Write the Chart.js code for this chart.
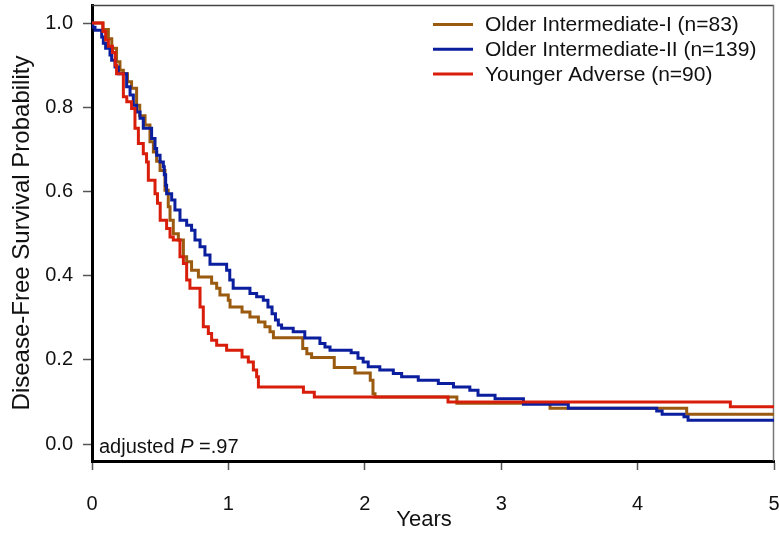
<!DOCTYPE html>
<html>
<head>
<meta charset="utf-8">
<script src="https://cdn.jsdelivr.net/npm/chart.js@4.4.1/dist/chart.umd.min.js"></script>
<style>
  html, body { margin: 0; padding: 0; background: #fff; }
  #c { display: block; }
</style>
</head>
<body>
<canvas id="c" width="779" height="537"></canvas>
<script>
// ---- Data ----
const seriesLabels = ['Older Intermediate-I (n=83)', 'Older Intermediate-II (n=139)', 'Younger Adverse (n=90)'];
const seriesColors = ['#9a5a10', '#0a1e9e', '#d81e0a'];

const oi1Times = [0, 0.08, 0.12, 0.145, 0.18, 0.205, 0.23, 0.26, 0.29, 0.327, 0.35, 0.389, 0.425, 0.45, 0.474, 0.499, 0.535, 0.559, 0.572, 0.596, 0.633, 0.67, 0.694, 0.73, 0.78, 0.877, 0.914, 0.938, 0.999, 1.012, 1.10, 1.158, 1.22, 1.268, 1.305, 1.33, 1.545, 1.575, 1.61, 1.776, 1.928, 2.04, 2.06, 2.075, 2.675, 3.358, 4.36, 5.0];
const oi1Surv  = [1.0, 0.985, 0.963, 0.94, 0.908, 0.888, 0.88, 0.861, 0.845, 0.805, 0.78, 0.758, 0.718, 0.694, 0.672, 0.65, 0.603, 0.564, 0.532, 0.5, 0.485, 0.445, 0.433, 0.413, 0.397, 0.382, 0.37, 0.354, 0.342, 0.326, 0.314, 0.302, 0.29, 0.279, 0.267, 0.253, 0.227, 0.215, 0.206, 0.182, 0.169, 0.152, 0.12, 0.112, 0.097, 0.085, 0.071, 0.071];

const oi2Times = [0, 0.005, 0.022, 0.071, 0.083, 0.10, 0.132, 0.144, 0.169, 0.193, 0.254, 0.279, 0.303, 0.327, 0.352, 0.376, 0.437, 0.462, 0.474, 0.499, 0.523, 0.53, 0.54, 0.547, 0.584, 0.608, 0.645, 0.694, 0.73, 0.755, 0.792, 0.828, 0.865, 0.987, 1.01, 1.035, 1.158, 1.207, 1.256, 1.29, 1.32, 1.345, 1.366, 1.39, 1.475, 1.56, 1.671, 1.708, 1.745, 1.90, 1.95, 1.988, 2.025, 2.11, 2.209, 2.27, 2.392, 2.539, 2.65, 2.77, 2.83, 2.955, 3.163, 3.492, 4.14, 4.18, 4.34, 4.37, 5.0];
const oi2Surv  = [1.0, 0.99, 0.983, 0.967, 0.952, 0.94, 0.924, 0.912, 0.896, 0.88, 0.849, 0.829, 0.805, 0.789, 0.774, 0.75, 0.726, 0.702, 0.686, 0.67, 0.659, 0.64, 0.615, 0.595, 0.58, 0.556, 0.532, 0.52, 0.508, 0.485, 0.469, 0.449, 0.427, 0.413, 0.39, 0.37, 0.358, 0.35, 0.342, 0.326, 0.31, 0.295, 0.283, 0.275, 0.267, 0.252, 0.239, 0.231, 0.223, 0.217, 0.204, 0.195, 0.184, 0.176, 0.168, 0.16, 0.152, 0.144, 0.136, 0.128, 0.116, 0.108, 0.095, 0.085, 0.079, 0.071, 0.065, 0.057, 0.057];

const yaTimes = [0, 0.08, 0.10, 0.12, 0.15, 0.17, 0.18, 0.23, 0.255, 0.29, 0.315, 0.34, 0.376, 0.40, 0.413, 0.462, 0.48, 0.50, 0.547, 0.572, 0.596, 0.645, 0.67, 0.694, 0.718, 0.792, 0.816, 0.853, 0.877, 0.914, 0.987, 1.10, 1.146, 1.183, 1.207, 1.22, 1.55, 1.63, 2.61, 4.68, 5.0];
const yaSurv  = [1.0, 0.98, 0.96, 0.945, 0.93, 0.90, 0.88, 0.825, 0.813, 0.797, 0.75, 0.714, 0.69, 0.67, 0.627, 0.595, 0.572, 0.532, 0.512, 0.492, 0.485, 0.445, 0.429, 0.39, 0.37, 0.326, 0.279, 0.263, 0.247, 0.235, 0.223, 0.207, 0.195, 0.176, 0.16, 0.136, 0.123, 0.112, 0.10, 0.089, 0.089];

const xTicks = [0, 1, 2, 3, 4, 5];
const yTicks = [0.0, 0.2, 0.4, 0.6, 0.8, 1.0];
const xTitle = 'Years';
const yTitle = 'Disease-Free Survival Probability';
const annotPrefix = 'adjusted ';
const annotP = 'P';
const annotValue = ' =.97';

// ---- Build datasets ----
function toPoints(ts, ss) { return ts.map((t, i) => ({ x: t, y: ss[i] })); }
const seriesTimes = [oi1Times, oi2Times, yaTimes];
const seriesSurv = [oi1Surv, oi2Surv, yaSurv];
const drawOrder = [0, 1, 2];

const FONT = '"Liberation Sans", Arial, Helvetica, sans-serif';

const datasets = drawOrder.map(i => ({
  label: seriesLabels[i],
  data: toPoints(seriesTimes[i], seriesSurv[i]),
  borderColor: seriesColors[i],
  backgroundColor: seriesColors[i],
  borderWidth: 3,
  stepped: 'before',
  pointRadius: 0,
  fill: false,
  borderJoinStyle: 'miter',
  borderCapStyle: 'butt',
  order: 2 - i
}));

const framePlugin = {
  id: 'frame',
  beforeDatasetsDraw(chart) {
    const { ctx, chartArea: a } = chart;
    ctx.save();
    ctx.strokeStyle = '#444';
    ctx.lineWidth = 1.5;
    ctx.beginPath();
    ctx.moveTo(a.left, a.top + 0.5);
    ctx.lineTo(a.right, a.top + 0.5);
    ctx.stroke();
    ctx.strokeStyle = '#777';
    ctx.beginPath();
    ctx.moveTo(a.right - 0.5, a.top);
    ctx.lineTo(a.right - 0.5, a.bottom);
    ctx.stroke();
    ctx.restore();
  }
};

const legendPlugin = {
  id: 'customLegend',
  afterDatasetsDraw(chart) {
    const { ctx, chartArea: a } = chart;
    ctx.save();
    const x0 = 433, x1 = 473, tx = 485, y0 = 24.5, dy = 24.8;
    ctx.font = '21px ' + FONT;
    ctx.textBaseline = 'middle';
    ctx.textAlign = 'left';
    seriesLabels.forEach((lab, i) => {
      const y = y0 + i * dy;
      ctx.strokeStyle = seriesColors[i];
      ctx.lineWidth = 3;
      ctx.beginPath();
      ctx.moveTo(x0, y);
      ctx.lineTo(x1, y);
      ctx.stroke();
      ctx.fillStyle = '#111';
      ctx.fillText(lab, tx, y + 1);
    });
    // annotation
    const ay = 447;
    let ax = 99;
    ctx.font = '20px ' + FONT;
    ctx.fillStyle = '#111';
    ctx.fillText(annotPrefix, ax, ay);
    ax += ctx.measureText(annotPrefix).width;
    ctx.font = 'italic 20px ' + FONT;
    ctx.fillText(annotP, ax, ay);
    ax += ctx.measureText(annotP).width;
    ctx.font = '20px ' + FONT;
    ctx.fillText(annotValue, ax, ay);
    // x axis title
    ctx.font = '22px ' + FONT;
    ctx.textAlign = 'center';
    ctx.fillText(xTitle, 424, 520);
    ctx.restore();
  }
};

new Chart(document.getElementById('c'), {
  type: 'line',
  data: { datasets },
  options: {
    responsive: false,
    animation: false,
    devicePixelRatio: 1,
    layout: { padding: { top: 5, right: 5, left: 0, bottom: 0 } },
    plugins: { legend: { display: false }, tooltip: { enabled: false } },
    scales: {
      x: {
        type: 'linear',
        min: 0, max: 5,
        afterFit(s) { s.height = 76; s.paddingLeft = 0; s.paddingRight = 0; },
        afterBuildTicks(s) { s.ticks = xTicks.map(v => ({ value: v })); },
        ticks: {
          font: { size: 20, family: FONT },
          color: '#111',
          padding: 22,
          maxRotation: 0,
          callback: v => String(v)
        },
        grid: { display: true, drawOnChartArea: false, drawTicks: true, tickLength: 9, tickColor: '#555', tickWidth: 1.5 },
        border: { display: true, color: '#000', width: 3 },
        title: { display: false }
      },
      y: {
        type: 'linear',
        min: -0.04, max: 1.043,
        afterFit(s) { s.width = 92; s.paddingTop = 0; s.paddingBottom = 0; },
        afterBuildTicks(s) { s.ticks = yTicks.map(v => ({ value: v })); },
        ticks: {
          font: { size: 20, family: FONT },
          color: '#111',
          padding: 10,
          callback: v => Number(v).toFixed(1)
        },
        grid: { display: true, drawOnChartArea: false, drawTicks: true, tickLength: 9, tickColor: '#555', tickWidth: 1.5 },
        border: { display: true, color: '#000', width: 3 },
        title: { display: true, text: yTitle, color: '#111', font: { size: 24, family: FONT }, padding: { top: 8, bottom: 0 } }
      }
    }
  },
  plugins: [framePlugin, legendPlugin]
});
</script>
</body>
</html>
